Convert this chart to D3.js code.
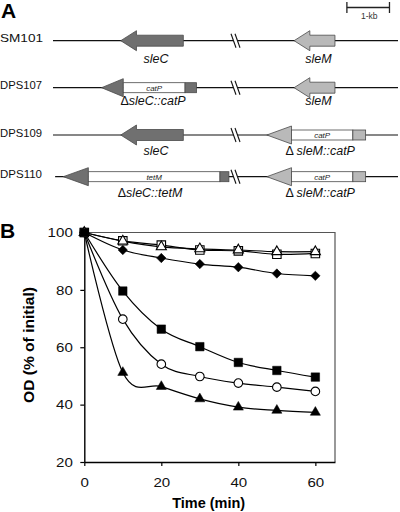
<!DOCTYPE html>
<html><head><meta charset="utf-8">
<script src="https://cdn.jsdelivr.net/npm/d3@7"></script>
<style>
html,body{margin:0;padding:0;background:#fff;}
svg{display:block;font-family:"Liberation Sans",Arial,Helvetica,sans-serif;}
</style></head><body>
<svg id="c" width="400" height="512"></svg>
<script>
// ---------- Panel A data (positions in kb along the locus) ----------
const strains = ["SM101", "DPS107", "DPS109", "DPS110"];
const lineStartKb = [0, 0, 0, 0.05];
const lineEndKb = 8.1;
const breakKb = 4.32;
// sleC locus
const cTipKb = [1.59, 1.14, 1.59, 0.24];
const cHeadKb = [1.96, 1.65, 1.96, 0.83];
const cInsEndKb = [null, 3.10, null, 3.92];
const cEndKb = [3.06, 3.37, 3.06, 4.13];
const cInsert = [null, "catP", null, "tetM"];
const cLabel = [["", "sleC"], ["Δ", "sleC::catP"], ["", "sleC"], ["Δ", "sleC::tetM"]];
// sleM locus
const mTipKb = [5.66, 5.66, 5.02, 5.02];
const mHeadKb = [6.03, 6.03, 5.60, 5.60];
const mInsEndKb = [null, null, 7.04, 7.04];
const mEndKb = [6.62, 6.62, 7.34, 7.34];
const mInsert = [null, null, "catP", "catP"];
const mLabel = [["", "sleM"], ["", "sleM"], ["Δ ", "sleM::catP"], ["Δ ", "sleM::catP"]];
const scaleBarKb = 1;

// ---------- Panel B data ----------
const timeMin = [0, 10, 20, 30, 40, 50, 60];
const openSquare = [100, 97.1, 95.6, 93.9, 93.6, 92.4, 92.7];
const openTriangle = [100, 97.0, 95.0, 94.3, 93.9, 93.3, 93.3];
const filledDiamond = [100, 93.9, 91.1, 89.0, 87.9, 85.7, 84.9];
const filledSquare = [100, 79.6, 66.3, 60.2, 54.7, 51.9, 49.6];
const openCircle = [100, 69.8, 54.1, 49.8, 47.5, 46.1, 44.6];
const filledTriangle = [100, 51.2, 46.3, 42.0, 39.1, 38.0, 37.3];
const xTicks = [0, 20, 40, 60];
const yTicks = [20, 40, 60, 80, 100];

const svg = d3.select("#c");

// ===================== Panel A =====================
const kb = d3.scaleLinear().domain([0, 8.1]).range([53, 398]);
const rowY = d3.scaleOrdinal().domain(strains).range([40.7, 87.7, 135, 176.7]);
const labelY = d3.scaleOrdinal().domain(strains).range([63, 105, 155, 197]);
const darkGray = "#707070", lightGray = "#b9b9b9", edge = "#4a4a4a";

svg.append("text").attr("x", 1).attr("y", 18).attr("font-size", 21).attr("font-weight", "bold").text("A");

// scale bar
const sb = svg.append("g");
const sbx0 = kb(6.9), sbx1 = kb(6.9 + scaleBarKb);
sb.append("line").attr("x1", sbx0).attr("x2", sbx1).attr("y1", 7.5).attr("y2", 7.5).attr("stroke", "#222").attr("stroke-width", 1.3);
[sbx0, sbx1].forEach(v => sb.append("line").attr("x1", v).attr("x2", v).attr("y1", 2).attr("y2", 13).attr("stroke", "#222").attr("stroke-width", 1.3));
sb.append("text").attr("x", (sbx0 + sbx1) / 2 + 1).attr("y", 18.5).attr("text-anchor", "middle").attr("font-size", 8.5).attr("fill", "#333").text("1-kb");

function drawLocus(g, yc, tip, head, insEnd, end, fill, insert, label, ly) {
  const hh = insert ? 9 : 10, bh = insert ? 5 : 5.5;
  const xt = kb(tip), xh = kb(head), xe = kb(end);
  if (!insert) {
    g.append("path").attr("d", `M${xt},${yc} L${xh},${yc - hh} L${xh},${yc - bh} L${xe},${yc - bh} L${xe},${yc + bh} L${xh},${yc + bh} L${xh},${yc + hh} Z`)
      .attr("fill", fill).attr("stroke", edge).attr("stroke-width", 0.8);
  } else {
    const xi = kb(insEnd);
    g.append("path").attr("d", `M${xt},${yc} L${xh},${yc - hh} L${xh},${yc + hh} Z`).attr("fill", fill).attr("stroke", edge).attr("stroke-width", 0.8);
    g.append("rect").attr("x", xh).attr("y", yc - bh).attr("width", xi - xh).attr("height", 2 * bh).attr("fill", "#fff").attr("stroke", edge).attr("stroke-width", 0.8);
    g.append("rect").attr("x", xi).attr("y", yc - bh).attr("width", xe - xi).attr("height", 2 * bh).attr("fill", fill).attr("stroke", edge).attr("stroke-width", 0.8);
    g.append("text").attr("x", (xh + xi) / 2).attr("y", yc + 3).attr("text-anchor", "middle").attr("font-size", 8).attr("font-style", "italic").attr("fill", "#222").text(insert);
  }
  const t = g.append("text").attr("x", (xt + xe) / 2 + 4).attr("y", ly).attr("text-anchor", "middle").attr("font-size", 12.5).attr("fill", "#111");
  if (label[0]) t.append("tspan").text(label[0]);
  t.append("tspan").attr("font-style", "italic").text(label[1]);
}

strains.forEach((s, i) => {
  const g = svg.append("g");
  const yc = rowY(s);
  g.append("text").attr("x", 0).attr("y", yc + 1.5).attr("font-size", 11.5).attr("fill", "#111")
    .attr("textLength", i === 0 ? 43 : 42).attr("lengthAdjust", "spacingAndGlyphs").text(s);
  g.append("line").attr("x1", kb(lineStartKb[i])).attr("x2", kb(lineEndKb)).attr("y1", yc).attr("y2", yc).attr("stroke", "#111").attr("stroke-width", 1.2);
  // break marks
  const bx = kb(breakKb);
  g.append("path").attr("d", `M${bx - 6},${yc - 7} L${bx - 1},${yc + 7} L${bx + 3},${yc + 7} L${bx - 2},${yc - 7} Z`).attr("fill", "#fff");
  g.append("line").attr("x1", bx - 6).attr("y1", yc - 7).attr("x2", bx - 1).attr("y2", yc + 7).attr("stroke", "#111").attr("stroke-width", 1.1);
  g.append("line").attr("x1", bx - 2).attr("y1", yc - 7).attr("x2", bx + 3).attr("y2", yc + 7).attr("stroke", "#111").attr("stroke-width", 1.1);
  drawLocus(g, yc, cTipKb[i], cHeadKb[i], cInsEndKb[i], cEndKb[i], darkGray, cInsert[i], cLabel[i], labelY(s));
  drawLocus(g, yc, mTipKb[i], mHeadKb[i], mInsEndKb[i], mEndKb[i], lightGray, mInsert[i], mLabel[i], labelY(s));
});

// ===================== Panel B =====================
const x = d3.scaleLinear().domain([0, 65.1]).range([84.3, 335]);
const y = d3.scaleLinear().domain([20, 100]).range([462, 232.5]);

svg.append("text").attr("x", 0).attr("y", 238).attr("font-size", 21).attr("font-weight", "bold").text("B");

// frame (top & right)
svg.append("path").attr("d", `M${x.range()[0]},${y(100)} H${x.range()[1]} V${y(20)}`).attr("fill", "none").attr("stroke", "#555").attr("stroke-width", 1.2);

const gx = svg.append("g").attr("transform", `translate(0,${y(20)})`)
  .call(d3.axisBottom(x).tickValues(xTicks).tickSize(4).tickPadding(11).tickSizeOuter(0));
const gy = svg.append("g").attr("transform", `translate(${x(0)},0)`)
  .call(d3.axisLeft(y).tickValues(yTicks).tickSize(4).tickPadding(7.5).tickSizeOuter(0));
[gx, gy].forEach(g => {
  g.attr("font-family", null).attr("font-size", null);
  g.select(".domain").attr("stroke", "#000").attr("stroke-width", 1.4);
  g.selectAll(".tick line").attr("stroke", "#000").attr("stroke-width", 1.2);
  g.selectAll(".tick text").attr("font-size", 13.5).attr("fill", "#111")
    .attr("textLength", function () { return this.textContent.length * 8.4; })
    .attr("lengthAdjust", "spacingAndGlyphs");
});

const line = d3.line().x(d => x(d[0])).y(d => y(d[1])).curve(d3.curveCardinal.tension(0));
const seriesList = [
  { vals: filledTriangle, sym: "triangle", fill: "#000" },
  { vals: openCircle, sym: "circle", fill: "#fff" },
  { vals: filledSquare, sym: "square", fill: "#000" },
  { vals: filledDiamond, sym: "diamond", fill: "#000" },
  { vals: openSquare, sym: "square", fill: "#fff" },
  { vals: openTriangle, sym: "triangle", fill: "#fff" }
];
seriesList.forEach(s => {
  svg.append("path").datum(timeMin.map((t, i) => [t, s.vals[i]]))
    .attr("d", line).attr("fill", "none").attr("stroke", "#000").attr("stroke-width", 1.2);
});
const symGen = {
  triangle: d3.symbol(d3.symbolTriangle, 44)(),
  circle: d3.symbol(d3.symbolCircle, 58)(),
  square: d3.symbol(d3.symbolSquare, 72)(),
  diamond: d3.symbol(d3.symbolSquare, 44)()
};
seriesList.forEach(s => {
  timeMin.forEach((t, i) => {
    svg.append("path").attr("d", symGen[s.sym])
      .attr("transform", `translate(${x(t)},${y(s.vals[i])})` + (s.sym === "diamond" ? " rotate(45)" : ""))
      .attr("fill", s.fill).attr("stroke", "#000").attr("stroke-width", s.fill === "#fff" ? 1.1 : 0.5);
  });
});
// origin filled square on top
svg.append("path").attr("d", symGen.square).attr("transform", `translate(${x(0)},${y(100)})`).attr("fill", "#000");

// axis titles
svg.append("text").attr("x", (x(0) + x.range()[1]) / 2 - 1).attr("y", 508).attr("text-anchor", "middle")
  .attr("font-size", 14).attr("font-weight", "bold").attr("textLength", 73).attr("lengthAdjust", "spacingAndGlyphs").text("Time (min)");
svg.append("text").attr("transform", `translate(34,345) rotate(-90)`).attr("text-anchor", "middle")
  .attr("font-size", 14).attr("font-weight", "bold").attr("textLength", 116).attr("lengthAdjust", "spacingAndGlyphs").text("OD (% of initial)");
</script>
</body></html>
